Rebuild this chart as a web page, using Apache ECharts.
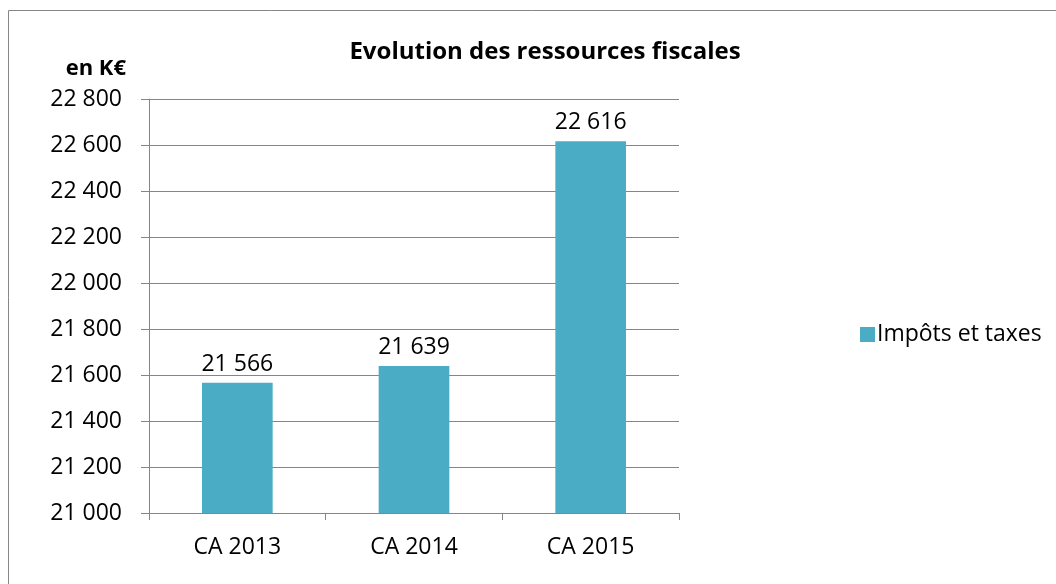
<!DOCTYPE html>
<html>
<head>
<meta charset="utf-8">
<script src="https://cdn.jsdelivr.net/npm/echarts@6/dist/echarts.min.js"></script>
<style>
  html, body { margin: 0; padding: 0; background: #fff; }
  #chart { width: 1056px; height: 584px; }
</style>
</head>
<body>
<div id="chart"></div>
<script>
const categories = ['CA 2013', 'CA 2014', 'CA 2015']
const impots = [21566, 21639, 22616]
const seriesName = 'Impôts et taxes'

const FONT = '"Open Sans", "DejaVu Sans", sans-serif'
const BAR_COLOR = '#4BACC6'
const LINE_COLOR = '#868686'

function fmt(v) {
  return String(v).replace(/\B(?=(\d{3})+(?!\d))/g, ' ')
}

const chart = echarts.init(document.getElementById('chart'))

chart.setOption({
  animation: false,
  textStyle: { fontFamily: FONT, color: '#000' },
  graphic: [
    {
      type: 'rect',
      shape: { x: 8.5, y: 10.5, width: 1200, height: 700 },
      style: { fill: 'none', stroke: LINE_COLOR, lineWidth: 1 }
    },
    {
      type: 'text',
      right: 1056 - 126,
      top: 58,
      style: { text: 'en K€', font: 'bold 22px ' + FONT, fill: '#000' }
    }
  ],
  title: {
    text: 'Evolution des ressources fiscales',
    left: 540,
    textAlign: 'center',
    top: 35,
    textStyle: { fontFamily: FONT, fontSize: 24, fontWeight: 'bold', color: '#000' }
  },
  legend: {
    left: 855,
    top: 318,
    itemWidth: 15,
    itemHeight: 15,
    itemGap: 6,
    icon: 'rect',
    textStyle: { fontFamily: FONT, fontSize: 23, color: '#000', padding: [0, 0, 0, -3] },
    data: [seriesName]
  },
  grid: {
    left: 149,
    right: 377,
    top: 99,
    bottom: 71,
    containLabel: false
  },
  xAxis: {
    type: 'category',
    data: categories,
    axisLine: { lineStyle: { color: LINE_COLOR, width: 1 } },
    axisTick: { show: true, length: 7, lineStyle: { color: LINE_COLOR } },
    axisLabel: { fontFamily: FONT, fontSize: 23, color: '#000', margin: 23 }
  },
  yAxis: {
    type: 'value',
    min: 21000,
    max: 22800,
    interval: 200,
    axisLine: { show: true, lineStyle: { color: LINE_COLOR, width: 1 } },
    axisTick: { show: true, length: 8, lineStyle: { color: LINE_COLOR } },
    splitLine: { lineStyle: { color: LINE_COLOR, width: 1 } },
    axisLabel: {
      fontFamily: FONT,
      fontSize: 23,
      color: '#000',
      margin: 27,
      formatter: v => fmt(v)
    }
  },
  series: [
    {
      name: seriesName,
      type: 'bar',
      data: impots,
      barWidth: '40%',
      itemStyle: { color: BAR_COLOR },
      label: {
        show: true,
        position: 'top',
        distance: 7,
        fontFamily: FONT,
        fontSize: 23,
        color: '#000',
        formatter: p => fmt(p.value)
      }
    }
  ]
})
</script>
</body>
</html>
